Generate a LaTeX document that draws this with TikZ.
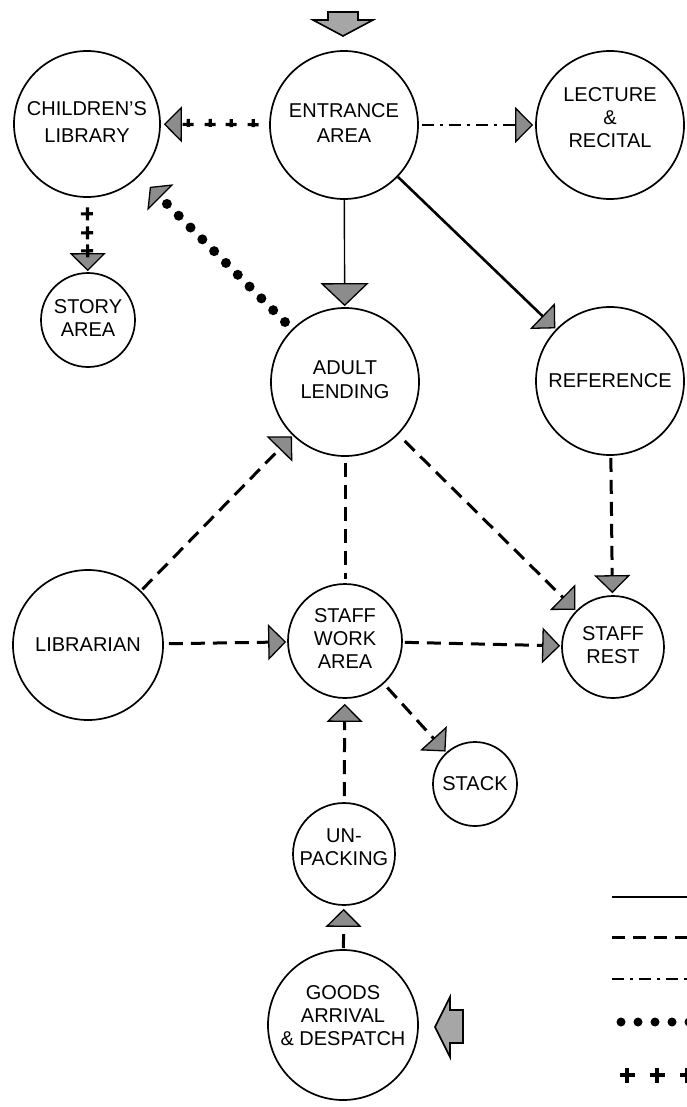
\documentclass[tikz,border=0pt]{standalone}
\usepackage{fontspec}
\setmainfont{Liberation Sans}
\usetikzlibrary{arrows.meta,decorations.markings}

% stacked, centred lines of a room label
\newcommand\lines[1]{\begin{tabular}{@{}c@{}}#1\end{tabular}}
% move the ink of a label without changing its measured box
\newcommand\liftby[2]{\raisebox{#1}[\height][\depth]{#2}}

\begin{document}
\begin{tikzpicture}[x=1pt,y=-1pt,
  room/.style={circle, draw, line width=1.7pt, inner sep=0pt, minimum size=#1,
    font=\fontsize{20}{23}\selectfont},
  head/.style={-{Triangle[width=36pt,length=18pt,line width=1.3pt,fill=black!45]}},
  bighead/.style={-{Triangle[width=48pt,length=23pt,line width=1.3pt,fill=black!45]}},
  dothead/.style={-{Triangle[width=37pt,length=15pt,line width=1.3pt,fill=black!45]}},
  solidline/.style={line width=2.6pt},
  thinline/.style={line width=1.4pt},
  dashline/.style={line width=3pt, dash pattern=on 14pt off 8pt},
  dashdotline/.style={line width=2.8pt, dash pattern=on 12pt off 6pt on 3pt off 6pt},
  dotline/.style={line width=10pt, line cap=round, dash pattern=on 0pt off 16.7pt},
  plusline/.style={line cap=butt, dash pattern=on 0pt off 5000pt},
  plussize/.store in=\plusarm, plussize=6pt,
  plusat/.style={postaction={decorate,decoration={markings,
    mark=at position #1 with {\draw[arrows=-,solid,line width=3.2pt,line cap=butt]
      (-\plusarm,0pt) -- (\plusarm,0pt) (0pt,-\plusarm) -- (0pt,\plusarm);}}}},
  entry/.style={draw, line width=1.6pt, fill=black!35, line join=miter},
]
\useasboundingbox (0,0) rectangle (686,1107);

% rooms
\node[room=146pt] (chl) at (87,124) {\lines{CHILDREN’S\\[4pt]LIBRARY}};
\node[room=148pt] (ent) at (344,125) {\lines{ENTRANCE\\[2pt]AREA}};
\node[room=148pt] (lec) at (610,125) {\liftby{5pt}{\lines{LECTURE\\\&\\RECITAL}}};
\node[room=94pt]  (sty) at (88,320) {\lines{STORY\\AREA}};
\node[room=148pt] (adl) at (345,382) {\lines{ADULT\\[1pt]LENDING}};
\node[room=148pt] (ref) at (610,381) {REFERENCE};
\node[room=150pt] (lib) at (88,645) {LIBRARIAN};
\node[room=114pt] (swa) at (345,641) {\lines{STAFF\\WORK\\AREA}};
\node[room=102pt] (srt) at (613,647) {\lines{STAFF\\REST}};
\node[room=84pt]  (stk) at (475,784) {STACK};
\node[room=102pt] (unp) at (344,854) {\liftby{5pt}{\lines{UN-\\PACKING}}};
\node[room=150pt] (gds) at (343,1025) {\liftby{7pt}{\lines{GOODS\\ARRIVAL\\\& DESPATCH}}};

% public entrance and goods entrance
\coordinate (pubin) at (343,12);
\draw[entry] (pubin) ++(-15,0) -- ++(30,0) -- ++(0,8) -- ++(15,0) -- (343,36)
  -- (313,20) -- ++(15,0) -- cycle;
\coordinate (goodsin) at (463,1027);
\draw[entry] (goodsin) ++(0,-17) -- ++(-13,0) -- ++(0,-13) -- (435,1027)
  -- (450,1057) -- ++(0,-14) -- ++(13,0) -- cycle;

% circulation
\draw[thinline, bighead, shorten >=1pt] (ent) -- (adl);
\draw[solidline, head, shorten >=1pt] (ent) -- (ref);
\draw[dashdotline, head, shorten <=3pt, shorten >=2pt] (ent) -- (lec);
\draw[plusline, head, shorten >=3pt, plussize=5.5pt,
  plusat=16pt, plusat=38pt, plusat=59pt, plusat=81pt] (ent) -- (chl);
\draw[plusline, head, shorten >=1pt, plussize=6.5pt,
  plusat=16pt, plusat=35pt, plusat=53pt] (chl) -- (sty);
\draw[dotline, dothead, shorten <=10pt, shorten >=15pt] (adl) -- (chl);
\draw[dashline, head, shorten <=2pt, shorten >=1pt] (lib) -- (adl);
\draw[dashline, shorten <=6pt, shorten >=4pt] (adl) -- (swa);
\draw[dashline, head, shorten <=9pt, shorten >=1pt] (adl) -- (srt);
\draw[dashline, head, shorten <=2pt, shorten >=2pt] (ref) -- (srt);
\draw[dashline, head, shorten <=5pt, shorten >=1pt] (lib) -- (swa);
\draw[dashline, head, shorten <=2pt, shorten >=1pt] (swa) -- (srt);
\draw[dashline, head, shorten <=5pt, shorten >=1pt] (swa) -- (stk);
\draw[dashline, head, shorten <=6pt, shorten >=5pt] (unp) -- (swa);
\draw[dashline, head, shorten <=1pt, shorten >=3pt] (gds) -- (unp);

% key of line types
\coordinate (k1) at (612,897);  \coordinate (k1e) at (690,897);
\coordinate (k2) at (612,937);  \coordinate (k2e) at (690,937);
\coordinate (k3) at (612,979);  \coordinate (k3e) at (690,979);
\coordinate (k4) at (621,1022); \coordinate (k4e) at (695,1022);
\coordinate (k5) at (612,1075); \coordinate (k5e) at (700,1075);
\draw[solidline] (k1) -- (k1e);
\draw[dashline, dash pattern=on 13pt off 8pt] (k2) -- (k2e);
\draw[dashdotline] (k3) -- (k3e);
\draw[dotline, line width=9pt, dash pattern=on 0pt off 17pt] (k4) -- (k4e);
\draw[plusline, plussize=7.5pt, plusat=15pt, plusat=45pt, plusat=75pt] (k5) -- (k5e);
\end{tikzpicture}
\end{document}
